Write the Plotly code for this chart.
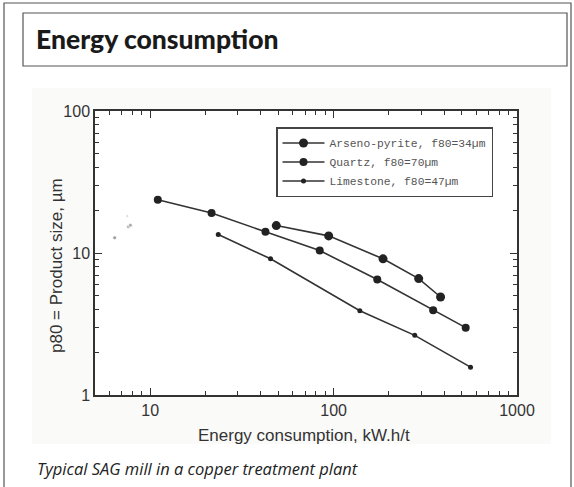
import numpy as np
import plotly.graph_objects as go

# Values (log-log)
arseno_energy = [48.7, 94, 186, 291, 383]
arseno_p80 = [15.6, 13.2, 9.1, 6.6, 4.9]

quartz_energy = [11.0, 21.6, 42.5, 84, 173, 349, 525]
quartz_p80 = [23.7, 19.1, 14.1, 10.4, 6.5, 3.95, 2.98]

lime_energy = [23.5, 45.3, 139, 277, 558]
lime_p80 = [13.5, 9.1, 3.92, 2.63, 1.57]

# stray specks left on the scan, left of the curves
speck_energy = [6.4, 7.6, 7.8, 7.5]
speck_p80 = [12.8, 15.3, 15.7, 18.2]

series_names = [
    "Arseno-pyrite, f80=34\u00b5m",
    "Quartz, f80=70\u00b5m",
    "Limestone, f80=47\u00b5m",
]

x_major = [10, 100, 1000]
x_minor = [6, 7, 8, 9, 20, 30, 40, 50, 60, 70, 80, 90, 200, 300, 400, 500, 600, 700, 800, 900]
y_major = [1, 10, 100]
y_minor = [2, 3, 4, 5, 6, 7, 8, 9, 20, 30, 40, 50, 60, 70, 80, 90]

title_text = "Energy consumption"
caption_text = "Typical SAG mill in a copper treatment plant"
x_title = "Energy consumption, kW.h/t"
y_title = "p80 = Product size, \u00b5m"

# pixel layout of the page (574x487)
W, H = 574, 487
L, R, T, B = 95, 517, 111, 395


def px(x):
    return (x - L) / (R - L)


def py(y):
    return (B - y) / (B - T)


ink = "#333333"

fig = go.Figure()

fig.add_trace(go.Scatter(
    x=arseno_energy, y=arseno_p80, mode="lines+markers", name=series_names[0],
    line=dict(color=ink, width=1.6),
    marker=dict(color="#222222", size=9),
))
fig.add_trace(go.Scatter(
    x=quartz_energy, y=quartz_p80, mode="lines+markers", name=series_names[1],
    line=dict(color=ink, width=1.6),
    marker=dict(color="#222222", size=8),
))
fig.add_trace(go.Scatter(
    x=lime_energy, y=lime_p80, mode="lines+markers", name=series_names[2],
    line=dict(color=ink, width=1.6),
    marker=dict(color="#222222", size=5),
))
fig.add_trace(go.Scatter(
    x=speck_energy, y=speck_p80, mode="markers", showlegend=False, hoverinfo="skip",
    marker=dict(color=["#777777", "#999999", "#888888", "#cccccc"], size=[4, 4, 4, 3]),
))

axis_common = dict(
    type="log",
    showline=True, linecolor=ink, linewidth=1.5,
    mirror="ticks", ticks="inside", ticklen=7, tickwidth=1.2, tickcolor=ink,
    showgrid=False, zeroline=False,
    tickfont=dict(family="Liberation Sans", size=16, color=ink),
)

fig.update_xaxes(
    range=[np.log10(5), 3], tickmode="array", tickvals=x_major,
    ticktext=[str(v) for v in x_major],
    minor=dict(tickmode="array", tickvals=x_minor, ticks="inside", ticklen=4,
               tickcolor=ink, showgrid=False),
    **axis_common,
)
fig.update_yaxes(
    range=[0, 2], tickmode="array", tickvals=y_major,
    ticktext=[str(v) for v in y_major],
    minor=dict(tickmode="array", tickvals=y_minor, ticks="inside", ticklen=4,
               tickcolor=ink, showgrid=False),
    **axis_common,
)

shapes = [
    # faint background of the scanned figure
    dict(type="rect", xref="paper", yref="paper", layer="below",
         x0=px(32), x1=px(551), y0=py(444), y1=py(88),
         fillcolor="#fafaf9", line=dict(width=0)),
    # white plot area
    dict(type="rect", xref="paper", yref="paper", layer="below",
         x0=0, x1=1, y0=0, y1=1, fillcolor="white", line=dict(width=0)),
    # outer frame
    dict(type="rect", xref="paper", yref="paper",
         x0=px(4), x1=px(571), y0=py(495), y1=py(3),
         line=dict(color="#555555", width=1.2)),
    # title box
    dict(type="rect", xref="paper", yref="paper",
         x0=px(23), x1=px(567), y0=py(66), y1=py(13),
         line=dict(color="#555555", width=1.2)),
]

annotations = [
    dict(text=title_text, xref="paper", yref="paper",
         x=px(34), y=py(39), xanchor="left", yanchor="middle", showarrow=False,
         font=dict(family="Lato", size=26.5, weight=900, color="#1a1a1a")),
    dict(text=caption_text, xref="paper", yref="paper",
         x=px(35), y=py(469), xanchor="left", yanchor="middle", showarrow=False,
         font=dict(family="Open Sans", size=16.5, color="#222222", style="italic")),
    dict(text=x_title, xref="paper", yref="paper",
         x=px(304), y=py(435), xanchor="center", yanchor="middle", showarrow=False,
         font=dict(family="Liberation Sans", size=17, color=ink)),
    dict(text=y_title, xref="paper", yref="paper", textangle=-90,
         x=px(56), y=py(266), xanchor="center", yanchor="middle", showarrow=False,
         font=dict(family="Liberation Sans", size=17, color=ink)),
]

fig.update_layout(
    width=W, height=H,
    margin=dict(l=L, r=W - R, t=T, b=H - B),
    paper_bgcolor="white",
    plot_bgcolor="rgba(0,0,0,0)",
    shapes=shapes,
    annotations=annotations,
    showlegend=True,
    legend=dict(
        x=px(276), y=py(127), xanchor="left", yanchor="top",
        bgcolor="white", bordercolor="#444444", borderwidth=1.5,
        font=dict(family="Liberation Mono", size=11.3, color="#555555"),
        tracegroupgap=0, itemwidth=42,
    ),
)

# drop the browser's default page margin so the figure sits at the corner
fig.write_html("out.html", config={"displayModeBar": False},
               post_script="document.body.style.margin='0';")
